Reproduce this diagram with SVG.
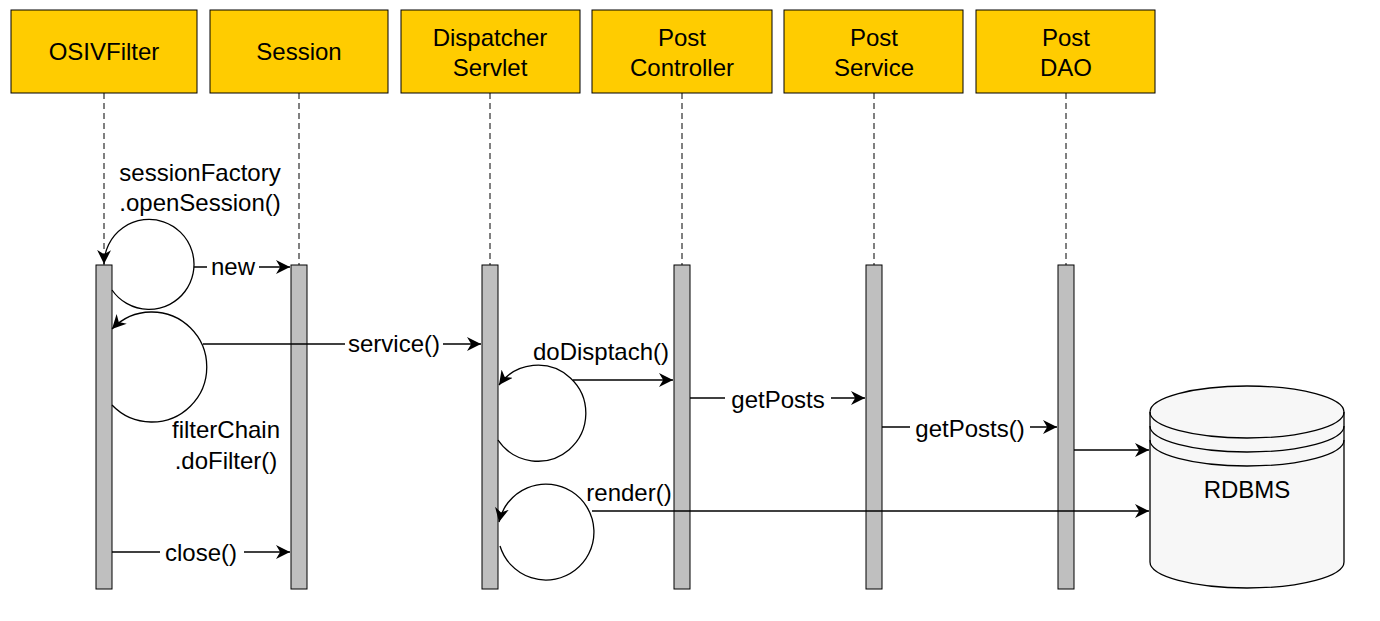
<svg xmlns="http://www.w3.org/2000/svg" width="1380" height="621" viewBox="0 0 1380 621">
<defs>
<style>
.hd{fill:#ffcc00;stroke:#000;stroke-width:1}
.ht{font-family:"Liberation Sans",Arial,sans-serif;font-size:24px;text-anchor:middle;fill:#000}
.lt{font-family:"Liberation Sans",Arial,sans-serif;font-size:24px;text-anchor:middle;fill:#000}
.ll{stroke:#000;stroke-dasharray:6 4;fill:none}
.bar{fill:#bfbfbf;stroke:#000;stroke-width:1}
.c{stroke:#000;stroke-width:1.3;fill:none}
</style>
<marker id="b" viewBox="0 0 10 10" refX="10" refY="5" markerWidth="14" markerHeight="14" orient="auto" markerUnits="userSpaceOnUse"><path d="M0,0 L10,5 L0,10 L3,5 Z" fill="#000"/></marker>
</defs>
<g id="osiv"><rect class="hd" x="11" y="10" width="186" height="83"/><text class="ht" x="104" y="60">OSIVFilter</text><line class="ll" x1="104" y1="93" x2="104" y2="265"/><rect class="bar" x="96" y="265" width="16" height="324"/></g>
<g id="session"><rect class="hd" x="210" y="10" width="178" height="83"/><text class="ht" x="299" y="60">Session</text><line class="ll" x1="299" y1="93" x2="299" y2="265"/><rect class="bar" x="291" y="265" width="16" height="324"/></g>
<g id="dispatcher"><rect class="hd" x="401" y="10" width="179" height="83"/><text class="ht" x="490" y="46">Dispatcher</text><text class="ht" x="490" y="76">Servlet</text><line class="ll" x1="490" y1="93" x2="490" y2="265"/><rect class="bar" x="482" y="265" width="16" height="324"/></g>
<g id="controller"><rect class="hd" x="592" y="10" width="180" height="83"/><text class="ht" x="682" y="46">Post</text><text class="ht" x="682" y="76">Controller</text><line class="ll" x1="682" y1="93" x2="682" y2="265"/><rect class="bar" x="674" y="265" width="16" height="324"/></g>
<g id="service"><rect class="hd" x="784" y="10" width="179" height="83"/><text class="ht" x="874" y="46">Post</text><text class="ht" x="874" y="76">Service</text><line class="ll" x1="874" y1="93" x2="874" y2="265"/><rect class="bar" x="866" y="265" width="16" height="324"/></g>
<g id="dao"><rect class="hd" x="976" y="10" width="179" height="83"/><text class="ht" x="1066" y="46">Post</text><text class="ht" x="1066" y="76">DAO</text><line class="ll" x1="1066" y1="93" x2="1066" y2="265"/><rect class="bar" x="1058" y="265" width="16" height="324"/></g>
<g id="rdbms">
<path d="M1150,412 L1150,562 A97,26 0 0 0 1344,562 L1344,412 A97,26 0 0 0 1150,412 Z" fill="#f7f7f7" stroke="#000" stroke-width="1.3"/>
<path d="M1150,412 A97,26 0 0 0 1344,412 M1150,426 A97,26 0 0 0 1344,426 M1150,440 A97,26 0 0 0 1344,440" fill="none" stroke="#000" stroke-width="1.3"/>
<text class="lt" x="1247" y="498">RDBMS</text>
</g>
<g id="connectors">
<path class="c" d="M112,290 A45,45 0 1 0 104,264" marker-end="url(#b)"/>
<text class="lt" x="200" y="181">sessionFactory</text>
<text class="lt" x="200" y="211">.openSession()</text>
<line class="c" x1="194" y1="267" x2="290" y2="267" marker-end="url(#b)"/>
<rect x="207" y="254" width="52" height="26" fill="#fff"/>
<text class="lt" x="233" y="275">new</text>
<path class="c" d="M112,405 A55,55 0 1 0 112,329" marker-end="url(#b)"/>
<line class="c" x1="203" y1="344" x2="481" y2="344" marker-end="url(#b)"/>
<rect x="345" y="330" width="98" height="28" fill="#fff"/>
<text class="lt" x="394" y="352">service()</text>
<text class="lt" x="226" y="438">filterChain</text>
<text class="lt" x="226" y="469">.doFilter()</text>
<line class="c" x1="112" y1="552" x2="290" y2="552" marker-end="url(#b)"/>
<rect x="160" y="539" width="84" height="28" fill="#fff"/>
<text class="lt" x="201" y="561">close()</text>
<path class="c" d="M498,440 A48,48 0 1 0 499,385" marker-end="url(#b)"/>
<line class="c" x1="573" y1="380" x2="673" y2="380" marker-end="url(#b)"/>
<text class="lt" x="601" y="360">doDisptach()</text>
<line class="c" x1="690" y1="398" x2="865" y2="398" marker-end="url(#b)"/>
<rect x="725" y="385" width="106" height="28" fill="#fff"/>
<text class="lt" x="778" y="408">getPosts</text>
<line class="c" x1="882" y1="427" x2="1057" y2="427" marker-end="url(#b)"/>
<rect x="910" y="414" width="120" height="28" fill="#fff"/>
<text class="lt" x="970" y="437">getPosts()</text>
<line class="c" x1="1074" y1="450" x2="1149" y2="450" marker-end="url(#b)"/>
<path class="c" d="M500,546 A48,48 0 1 0 499,522" marker-end="url(#b)"/>
<line class="c" x1="592" y1="511" x2="1149" y2="511" marker-end="url(#b)"/>
<text class="lt" x="629" y="501">render()</text>
</g>
</svg>
